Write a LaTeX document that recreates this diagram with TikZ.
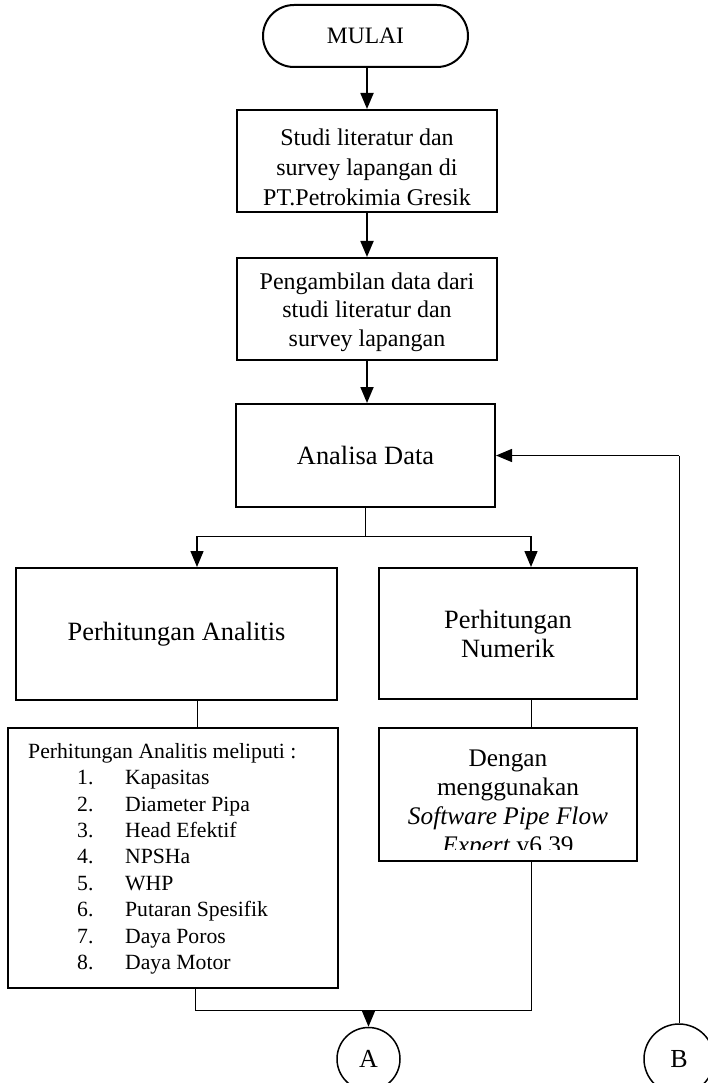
\documentclass[tikz,border=0pt]{standalone}
\usepackage{fontspec}
\setmainfont{Liberation Serif}
\usetikzlibrary{arrows.meta}
\newcommand{\setfs}[2]{\fontsize{#1}{#2}\selectfont}
\tikzset{
  box/.style={draw, line width=2pt, inner sep=0pt, align=center},
  term/.style={box, rounded corners=31pt},
  flow/.style={line width=1.8pt, -{Triangle[length=16pt,width=13pt]}},
  branch/.style={line width=1.4pt, -{Triangle[length=16pt,width=13pt]}},
  thinline/.style={line width=1pt},
  conn/.style={draw, circle, line width=1.5pt, inner sep=0pt, font=\setfs{26}{30}},
  label/.style={inner sep=0pt, align=center}
}
\begin{document}
\begin{tikzpicture}[x=1pt, y=-1pt]
\useasboundingbox (0,0) rectangle (707,1083);

% main column
\node[term, minimum width=205pt, minimum height=62pt, font=\setfs{23.5}{28}] (start) at (365.5,36) {MULAI};

\node[box, minimum width=260pt, minimum height=102pt] (b1) at (367,161) {};
\node[label, font=\setfs{24}{30}] (t1) at (367,167)
  {Studi literatur dan\\survey lapangan di\\PT.Petrokimia Gresik};

\node[box, minimum width=260pt, minimum height=102pt] (b2) at (367,309) {};
\node[label, font=\setfs{24}{28.5}] (t2) at (367,312)
  {Pengambilan data dari\\studi literatur dan\\survey lapangan};

\node[box, minimum width=259pt, minimum height=103pt, font=\setfs{26.4}{30}] (b3) at (365.5,455.5) {Analisa Data};

% two branches
\node[box, minimum width=321pt, minimum height=132pt, font=\setfs{26.4}{30}] (b4) at (176.5,634) {Perhitungan Analitis};
\node[box, minimum width=258pt, minimum height=131pt, font=\setfs{26.4}{29}] (b5) at (508,633.5) {Perhitungan\\Numerik};

\node[box, minimum width=330pt, minimum height=260pt] (b6) at (173,858) {};
\node[inner sep=0pt, anchor=north west, align=left, font=\setfs{21.7}{26.4}] (list) at (28,743)
  {Perhitungan Analitis meliputi :\\
   \hspace*{49pt}\makebox[48pt][l]{1.}Kapasitas\\
   \hspace*{49pt}\makebox[48pt][l]{2.}Diameter Pipa\\
   \hspace*{49pt}\makebox[48pt][l]{3.}Head Efektif\\
   \hspace*{49pt}\makebox[48pt][l]{4.}NPSHa\\
   \hspace*{49pt}\makebox[48pt][l]{5.}WHP\\
   \hspace*{49pt}\makebox[48pt][l]{6.}Putaran Spesifik\\
   \hspace*{49pt}\makebox[48pt][l]{7.}Daya Poros\\
   \hspace*{49pt}\makebox[48pt][l]{8.}Daya Motor};

\node[box, minimum width=258pt, minimum height=133pt] (b7) at (508,794.5) {};
\begin{scope}
  \clip (379,730) rectangle (637,849);
  \node[label, font=\setfs{25.3}{29}] (soft) at (508,804)
    {Dengan\\menggunakan\\\textit{Software Pipe Flow}\\\textit{Expert} v6.39};
\end{scope}

% off-page connectors
\node[conn, minimum size=63pt] (A) at (368.5,1059) {A};
\node[conn, minimum size=70pt] (B) at (679,1059) {B};

% junction points
\coordinate (jl) at (197,536);
\coordinate (jr) at (531,536);
\coordinate (ml) at (195,1010);
\coordinate (mr) at (531,1010);

% connectors
\draw[flow] (b1.north |- start.south) -- (b1.north);
\draw[flow] (b1.south) -- (b2.north);
\draw[flow] (b2.south) -- (b2.south |- b3.north);
\draw[thinline] (b3.south) -- (b3.south |- jl);
\draw[thinline] (jl) -- (jr);
\draw[branch] (jl) -- (jl |- b4.north);
\draw[branch] (jr) -- (jr |- b5.north);
\draw[thinline] (jl |- b4.south) -- (jl |- b6.north);
\draw[thinline] (jr |- b5.south) -- (jr |- b7.north);
\draw[thinline] (ml |- b6.south) -- (ml) -- (mr) -- (mr |- b7.south);
\draw[branch] (A.north |- ml) -- (A.north);
\draw[thinline] (B.north) -- (B.north |- b3.east);
\draw[branch] (B.north |- b3.east) -- (b3.east);
\end{tikzpicture}
\end{document}
